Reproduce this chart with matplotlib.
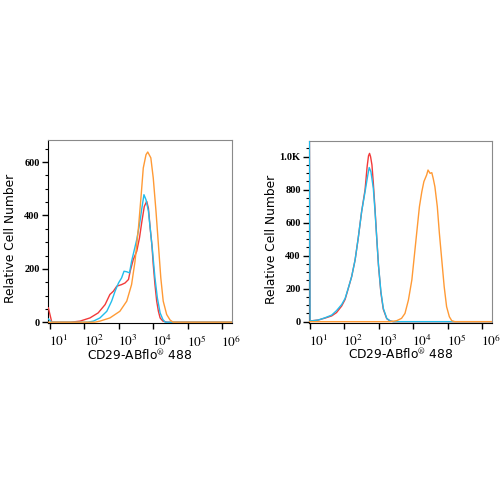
import numpy as np
import matplotlib
matplotlib.use("Agg")
import matplotlib.pyplot as plt
import matplotlib.transforms as mtransforms
from matplotlib.ticker import LogLocator, MultipleLocator, NullFormatter

plt.rcParams['mathtext.fontset'] = 'stix'

# ---- data: log10 fluorescence positions and relative cell counts ----
# left panel
l_red_log = [0.95, 1.05, 1.60, 1.87, 2.16, 2.40, 2.60, 2.74, 2.84, 2.94, 3.08, 3.18,
             3.28, 3.33, 3.42, 3.52, 3.60, 3.67, 3.74, 3.81, 3.86, 3.91, 3.96, 4.00,
             4.05, 4.10, 4.15, 4.20, 4.28, 4.40, 6.29]
l_red_cnt = [54, 0, 0, 4, 16, 35, 66, 104, 116, 135, 141, 147,
             160, 191, 235, 266, 316, 378, 434, 453, 427, 354, 291, 216,
             141, 79, 41, 16, 4, 0, 0]

l_cyan_log = [0.95, 1.05, 2.10, 2.26, 2.45, 2.65, 2.79, 2.89, 2.99, 3.08, 3.15, 3.23,
              3.31, 3.37, 3.44, 3.52, 3.60, 3.67, 3.73, 3.79, 3.86, 3.91, 3.98, 4.05,
              4.12, 4.20, 4.28, 4.35, 6.29]
l_cyan_cnt = [12, 0, 0, 4, 16, 41, 79, 116, 147, 166, 191, 189,
              185, 228, 266, 310, 366, 428, 478, 459, 416, 354, 266, 166,
              91, 35, 10, 0, 0]

l_orange_log = [0.95, 2.30, 2.45, 2.74, 3.03, 3.23, 3.37, 3.47, 3.57, 3.65, 3.71, 3.79,
                3.84, 3.93, 4.00, 4.08, 4.15, 4.22, 4.29, 4.39, 4.49, 4.58, 6.29]
l_orange_cnt = [0, 0, 4, 16, 41, 79, 141, 228, 354, 478, 578, 628,
                638, 616, 541, 416, 291, 166, 79, 29, 8, 0, 0]

# right panel
r_red_log = [0.975, 1.00, 1.24, 1.44, 1.63, 1.77, 1.92, 2.02, 2.11, 2.21, 2.31, 2.40,
             2.50, 2.60, 2.66, 2.70, 2.73, 2.76, 2.80, 2.84, 2.89, 2.94, 2.99, 3.06,
             3.13, 3.23, 3.33, 3.42, 6.29]
r_red_cnt = [1500, 4, 10, 22, 35, 55, 95, 135, 200, 273, 374, 505,
             667, 800, 940, 1005, 1020, 1000, 950, 840, 680, 505, 340, 175,
             75, 18, 4, 0, 0]

r_cyan_log = [0.975, 1.00, 1.24, 1.44, 1.63, 1.77, 1.92, 2.02, 2.11, 2.21, 2.31, 2.40,
              2.50, 2.60, 2.68, 2.72, 2.77, 2.84, 2.89, 2.94, 2.99, 3.06, 3.13, 3.23,
              3.33, 3.42, 6.29]
r_cyan_cnt = [1500, 4, 10, 24, 40, 67, 104, 141, 202, 273, 374, 505,
              667, 788, 889, 934, 909, 808, 667, 505, 344, 182, 81, 20,
              4, 0, 0]

r_orange_log = [0.975, 3.33, 3.52, 3.66, 3.76, 3.86, 3.96, 4.02, 4.10, 4.18, 4.25, 4.31,
                4.39, 4.43, 4.49, 4.54, 4.58, 4.63, 4.70, 4.76, 4.83, 4.90, 4.97, 5.05,
                5.12, 5.21, 6.29]
r_orange_cnt = [0, 0, 6, 20, 50, 131, 253, 374, 536, 697, 788, 849,
                889, 919, 899, 903, 869, 818, 697, 536, 374, 212, 91, 30,
                6, 0, 0]

red = '#f23a3a'
cyan = '#22bdec'
orange = '#ff9a35'

fig = plt.figure(figsize=(5, 5), dpi=100)
ax1 = fig.add_axes([0.096, 0.354, 0.368, 0.366])
ax2 = fig.add_axes([0.618, 0.355, 0.366, 0.363])

panels = [
    (ax1, (l_red_log, l_red_cnt), (l_cyan_log, l_cyan_cnt), (l_orange_log, l_orange_cnt),
     (0.94, 6.29), (-3, 683), [0, 200, 400, 600], ['0', '200', '400', '600']),
    (ax2, (r_red_log, r_red_cnt), (r_cyan_log, r_cyan_cnt), (r_orange_log, r_orange_cnt),
     (0.97, 6.29), (-5, 1095), [0, 200, 400, 600, 800, 1000],
     ['0', '200', '400', '600', '800', '1.0K']),
]

for ax, rd, cy, og, xl, yl, yt, ytl in panels:
    for (lg, cnt), c in [(rd, red), (cy, cyan), (og, orange)]:
        ax.plot(10 ** np.array(lg), cnt, color=c, lw=1.0, zorder=3)
    ax.set_xscale('log')
    ax.set_xlim(10 ** xl[0], 10 ** xl[1])
    ax.set_ylim(*yl)

    ax.set_xticks([10 ** k for k in range(1, 7)])
    ax.set_xticklabels([r'$10^{%d}$' % k for k in range(1, 7)], fontsize=9.5)
    ax.xaxis.set_minor_locator(LogLocator(base=10, subs=np.arange(2, 10)))
    ax.xaxis.set_minor_formatter(NullFormatter())

    ax.set_yticks(yt)
    ax.set_yticklabels(ytl, fontsize=7.5, fontweight='bold', family='Liberation Serif')
    ax.yaxis.set_minor_locator(MultipleLocator(50))

    ax.tick_params(which='major', length=4, width=1, direction='out', pad=2)
    ax.tick_params(which='minor', length=2.5, width=0.8, direction='out')
    ax.tick_params(axis='x', which='major', pad=4)

    # labels sit a little to the right of the decade ticks
    offset = mtransforms.ScaledTranslation(9 / 100, 0, fig.dpi_scale_trans)
    for lab in ax.get_xticklabels():
        lab.set_transform(lab.get_transform() + offset)

    for s in ['top', 'right']:
        ax.spines[s].set_color('#8a8a8a')
    for s in ['left', 'bottom']:
        ax.spines[s].set_color('black')

    ax.set_ylabel('Relative Cell Number', fontsize=8.8)
    ax.yaxis.set_label_coords(-0.17, 0.46)
    ax.set_xlabel('CD29-ABflo$^{®}$ 488', fontsize=8.8)
    ax.xaxis.set_label_coords(0.5, -0.14)
    ax.xaxis.label.set_va('top')

fig.savefig('out.png', dpi=100)
